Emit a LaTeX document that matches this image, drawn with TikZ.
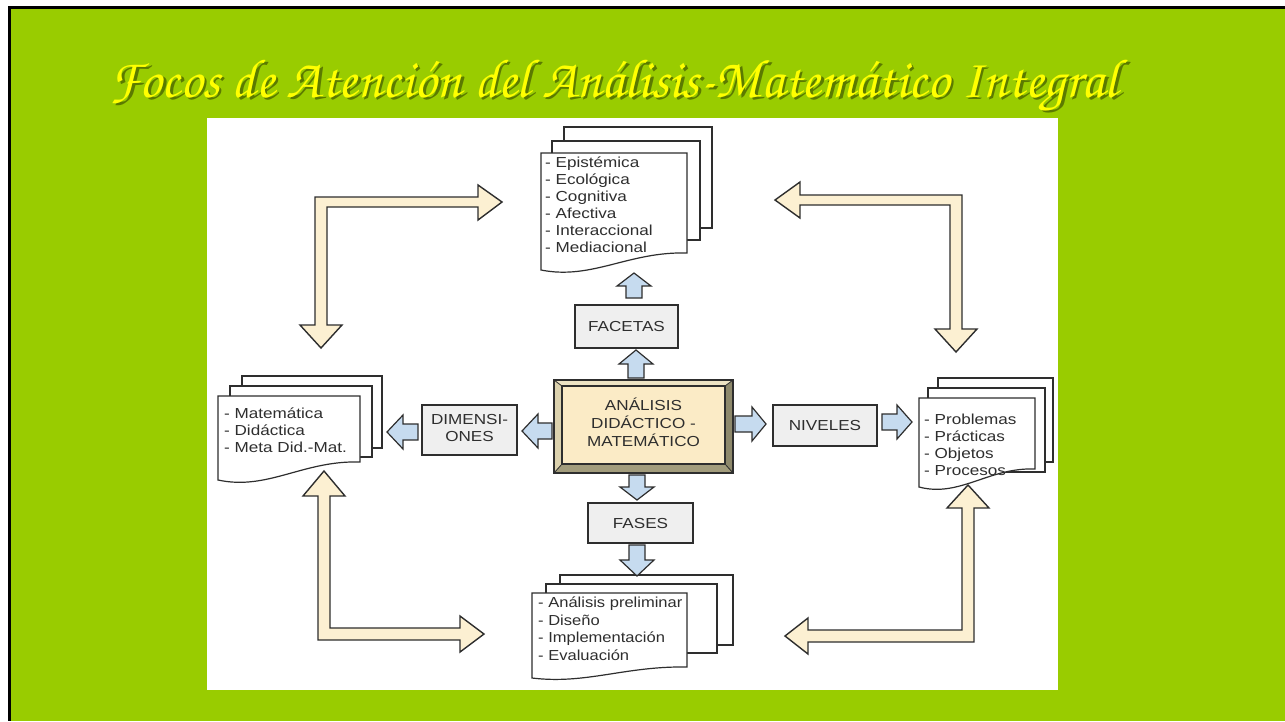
\documentclass[tikz,border=0pt]{standalone}
\usepackage{fontspec}
\setmainfont{Liberation Sans}
\newfontfamily\titlefont{texgyrechorus-mediumitalic.otf}
\usetikzlibrary{calc}
\definecolor{slidegreen}{HTML}{99CC00}
\definecolor{titleyellow}{HTML}{FFFF00}
\definecolor{ink}{HTML}{2E2E2E}
\definecolor{arrowblue}{HTML}{C6DBEF}
\definecolor{larrow}{HTML}{FCF0D2}
\definecolor{panelfill}{HTML}{FBEBC6}
\definecolor{boxgray}{HTML}{EFEFEF}
\definecolor{bevtop}{HTML}{EDE3C4}
\definecolor{bevleft}{HTML}{DCD2AE}
\definecolor{bevbot}{HTML}{A29C7C}
\definecolor{bevright}{HTML}{8E896C}
\newcommand\sx[1]{\scalebox{1.18}[1]{#1}}
\newcommand\backpage[4]{\draw[page] (#1,#2) rectangle (#3,#4);}
\newcommand\frontpage[5]{%
  \pgfmathsetmacro\pgw{#3-#1}\pgfmathsetmacro\pgdd{#5-#4}%
  \draw[page] (#1,#2) -- (#3,#2) -- (#3,#4)
    .. controls ({#1+0.6*\pgw},{#5-1.1*\pgdd}) and ({#1+0.35*\pgw},{#5+0.6*\pgdd}) .. (#1,#5) -- cycle;}
\newcommand\varr[4]{% cx, tip y, head base y, tail y
  \draw[barrow] ({#1-8},#4) -- ({#1-8},#3) -- ({#1-17},#3) -- (#1,#2) -- ({#1+17},#3) -- ({#1+8},#3) -- ({#1+8},#4) -- cycle;}
\newcommand\harr[4]{% cy, tip x, head base x, tail x
  \draw[barrow] (#4,{#1-8}) -- (#3,{#1-8}) -- (#3,{#1-17}) -- (#2,#1) -- (#3,{#1+17}) -- (#3,{#1+8}) -- (#4,{#1+8}) -- cycle;}
\tikzset{
  page/.style={draw=ink, fill=white, line width=1.2pt, line join=miter},
  barrow/.style={draw=ink, fill=arrowblue, line width=1.2pt, line join=miter},
  lshape/.style={draw=ink, fill=larrow, line width=1.4pt, line join=miter},
  labelbox/.style={draw=ink, fill=boxgray, line width=1.2pt, inner sep=0pt, text=ink,
    font=\fontsize{14.5}{17}\selectfont, align=center},
  listtext/.style={anchor=north west, inner sep=0pt, text=ink, font=\fontsize{14.5}{17}\selectfont},
  titletext/.style={anchor=base, inner sep=0pt, font=\titlefont},
}
\begin{document}
\begin{tikzpicture}[x=1pt,y=-1pt]
\useasboundingbox (0,0) rectangle (1285,721);
% slide background
\fill[white] (0,0) rectangle (1285,721);
\fill[black] (8,6) rectangle (1285,721);
\fill[slidegreen] (11,9) rectangle (1285,721);
% title (shadow + text)
\node[titletext, text=black, opacity=0.4] at (616.5,99.5) {\resizebox{1008pt}{!}{Focos de Atención del Análisis-Matemático Integral}};
\node[titletext, text=titleyellow] (title) at (614,97) {\resizebox{1008pt}{!}{Focos de Atención del Análisis-Matemático Integral}};
% white panel
\fill[white] (207,118) rectangle (1058,690);
% L-shaped double arrows
\draw[lshape] (315,197) -- (478,197) -- (478,185) -- (502,202) -- (478,220) -- (478,207) -- (327,207)
  -- (327,325) -- (342,325) -- (321,348) -- (300,325) -- (315,325) -- cycle;
\draw[lshape] (962,195) -- (800,195) -- (800,182) -- (775,200) -- (800,218) -- (800,205) -- (950,205)
  -- (950,329) -- (935,329) -- (956,352) -- (977,329) -- (962,329) -- cycle;
\draw[lshape] (318,640) -- (318,496) -- (303,496) -- (324,471) -- (345,496) -- (330,496) -- (330,628)
  -- (460,628) -- (460,616) -- (484,634) -- (460,652) -- (460,640) -- cycle;
\draw[lshape] (974,642) -- (974,508) -- (989,508) -- (968,485) -- (947,508) -- (962,508) -- (962,630)
  -- (808,630) -- (808,618) -- (785,636) -- (808,654) -- (808,642) -- cycle;
% top document stack
\backpage{564}{127}{712}{228}
\backpage{552}{141}{700}{240}
\frontpage{541}{153}{687}{253}{270}
\node[listtext] (facetlist) at (545,155) {\sx{\begin{tabular}{@{}l@{}}- Epistémica\\- Ecológica\\- Cognitiva\\- Afectiva\\- Interaccional\\- Mediacional\end{tabular}}};
% left document stack
\backpage{242}{376}{382}{448}
\backpage{230}{386}{372}{457}
\frontpage{218}{396}{360}{462}{480}
\node[listtext] (dimlist) at (224,406) {\sx{\begin{tabular}{@{}l@{}}- Matemática\\- Didáctica\\- Meta Did.-Mat.\end{tabular}}};
% right document stack
\backpage{938}{378}{1053}{462}
\backpage{928}{388}{1045}{472}
\frontpage{919}{398}{1035}{469}{487}
\node[listtext] (nivlist) at (924,412) {\sx{\begin{tabular}{@{}l@{}}- Problemas\\- Prácticas\\- Objetos\\- Procesos\end{tabular}}};
% bottom document stack
\backpage{560}{575}{733}{645}
\backpage{546}{584}{717}{653}
\frontpage{532}{593}{687}{667}{678}
\node[listtext, font=\fontsize{14.5}{17.6}\selectfont] (faselist) at (538,595) {\scalebox{1.14}[1]{\begin{tabular}{@{}l@{}}- Análisis preliminar\\- Diseño\\- Implementación\\- Evaluación\end{tabular}}};
% central bevelled box
\fill[bevtop] (554,380) -- (733,380) -- (725,386) -- (562,386) -- cycle;
\fill[bevleft] (554,380) -- (562,386) -- (562,464) -- (554,473) -- cycle;
\fill[bevbot] (554,473) -- (562,464) -- (725,464) -- (733,473) -- cycle;
\fill[bevright] (733,380) -- (725,386) -- (725,464) -- (733,473) -- cycle;
\node[draw=ink, fill=panelfill, line width=1.2pt, minimum width=163pt, minimum height=78pt, inner sep=0pt,
  text=ink, font=\fontsize{14.5}{18}\selectfont] (ada) at (643.5,425)
  {\sx{\begin{tabular}{@{}c@{}}ANÁLISIS\\DIDÁCTICO -\\MATEMÁTICO\end{tabular}}};
\draw[ink, line width=1.2pt] (554,380) rectangle (733,473);
\draw[ink, line width=0.8pt] (554,380) -- (562,386) (733,380) -- (725,386) (554,473) -- (562,464) (733,473) -- (725,464);
% label boxes
\node[labelbox, minimum width=103pt, minimum height=43pt] (facetas) at (626.5,326.5) {\sx{FACETAS}};
\node[labelbox, minimum width=95pt, minimum height=50pt] (dimensiones) at (469.5,430) {\sx{\begin{tabular}{@{}c@{}}DIMENSI-\\ONES\end{tabular}}};
\node[labelbox, minimum width=104pt, minimum height=41pt] (niveles) at (825,425.5) {\sx{NIVELES}};
\node[labelbox, minimum width=105pt, minimum height=40pt] (fases) at (640.5,523) {\sx{FASES}};
% blue block arrows
\varr{634}{273}{286}{298}
\varr{636}{350}{364}{378}
\varr{637}{500}{487}{475}
\varr{637}{576}{560}{545}
\harr{431}{522}{538}{552}
\harr{432}{387}{403}{418}
\harr{424}{766}{752}{735}
\harr{422}{912}{897}{882}
\end{tikzpicture}
\end{document}
